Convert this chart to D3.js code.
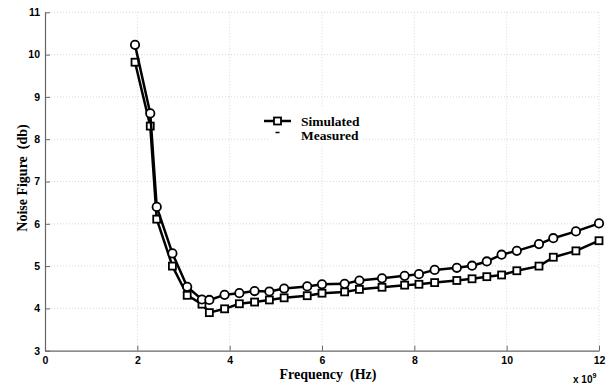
<!DOCTYPE html>
<html>
<head>
<meta charset="utf-8">
<script src="https://cdn.jsdelivr.net/npm/d3@7"></script>
<style>
  body { margin: 0; background: #fff; }
  .tick text { font-family: "Liberation Sans", Arial, sans-serif; font-weight: bold; font-size: 10.5px; fill: #000; }
  .axis-title { font-family: "Liberation Serif", "Times New Roman", serif; font-weight: bold; font-size: 14px; white-space: pre; }
  .legend-text { font-family: "Liberation Serif", "Times New Roman", serif; font-weight: bold; font-size: 13.5px; }
</style>
</head>
<body>
<div id="chart"></div>
<script>
// frequency in units of 1e9 Hz
var freq = [1.95, 2.28, 2.42, 2.76, 3.08, 3.40, 3.56, 3.89, 4.21, 4.54, 4.86, 5.18, 5.68, 6.0, 6.49,
  6.81, 7.30, 7.79, 8.10, 8.44, 8.92, 9.25, 9.57, 9.89, 10.22, 10.70, 11.01, 11.5, 12.0];
var measured = [10.23, 8.61, 6.40, 5.30, 4.51, 4.21, 4.20, 4.32, 4.36, 4.41, 4.40, 4.47, 4.52, 4.57, 4.58,
  4.66, 4.71, 4.77, 4.81, 4.91, 4.96, 5.01, 5.11, 5.27, 5.36, 5.52, 5.66, 5.82, 6.01];
var simulated = [9.82, 8.31, 6.11, 5.00, 4.31, 4.10, 3.90, 3.99, 4.11, 4.15, 4.20, 4.25, 4.30, 4.36, 4.39,
  4.45, 4.50, 4.55, 4.57, 4.61, 4.66, 4.70, 4.75, 4.79, 4.89, 5.00, 5.21, 5.36, 5.60];
var xTicks = [0, 2, 4, 6, 8, 10, 12];
var yTicks = [3, 4, 5, 6, 7, 8, 9, 10, 11];

var svgWidth = 612;
var svgHeight = 387;
var margin = { top: 12.3, right: 13, bottom: 36.3, left: 45 };
var width = svgWidth - margin.left - margin.right;
var height = svgHeight - margin.top - margin.bottom;

var svg = d3.select("#chart").append("svg")
  .attr("width", svgWidth)
  .attr("height", svgHeight);

var chartGroup = svg.append("g")
  .attr("transform", `translate(${margin.left}, ${margin.top})`);

var x = d3.scaleLinear().domain([0, 12]).range([0, width]);
var y = d3.scaleLinear().domain([3, 11]).range([height, 0]);

// grid
chartGroup.append("g").selectAll("line")
  .data(xTicks.slice(1))
  .enter().append("line")
  .attr("x1", d => x(d)).attr("x2", d => x(d))
  .attr("y1", 0).attr("y2", height)
  .attr("stroke", "#d8d8d8").attr("stroke-width", 1)
  .attr("stroke-dasharray", "1,2");
chartGroup.append("g").selectAll("line")
  .data(yTicks.slice(1))
  .enter().append("line")
  .attr("x1", 0).attr("x2", width)
  .attr("y1", d => y(d)).attr("y2", d => y(d))
  .attr("stroke", "#d8d8d8").attr("stroke-width", 1)
  .attr("stroke-dasharray", "1,2");

// axes with inward ticks
var bottomAxis = d3.axisBottom(x).tickValues(xTicks).tickSizeInner(-5).tickSizeOuter(0).tickPadding(6);
var leftAxis = d3.axisLeft(y).tickValues(yTicks).tickSizeInner(-5).tickSizeOuter(0).tickPadding(5);

var xAxis = chartGroup.append("g")
  .attr("transform", `translate(0, ${height})`)
  .call(bottomAxis);
var yAxis = chartGroup.append("g").call(leftAxis);
[xAxis, yAxis].forEach(function(a) {
  a.select(".domain").attr("stroke", "#666").attr("stroke-width", 1.2);
  a.selectAll(".tick line").attr("stroke", "#666");
});

// legend background hides the grid
chartGroup.append("rect")
  .attr("x", 270 - margin.left).attr("y", 108 - margin.top)
  .attr("width", 93).attr("height", 37)
  .attr("fill", "#fff");

var line = d3.line()
  .x((d, i) => x(freq[i]))
  .y(d => y(d));

function drawSeries(values, marker) {
  chartGroup.append("path")
    .datum(values)
    .attr("d", line)
    .attr("fill", "none")
    .attr("stroke", "#000")
    .attr("stroke-width", 2.5)
    .attr("stroke-linejoin", "round");
  if (marker === "circle") {
    chartGroup.selectAll(null)
      .data(values).enter().append("circle")
      .attr("cx", (d, i) => x(freq[i]))
      .attr("cy", d => y(d))
      .attr("r", 4.2)
      .attr("fill", "#fff").attr("stroke", "#000").attr("stroke-width", 1.8);
  } else {
    chartGroup.selectAll(null)
      .data(values).enter().append("rect")
      .attr("x", (d, i) => x(freq[i]) - 3.5)
      .attr("y", d => y(d) - 3.5)
      .attr("width", 7).attr("height", 7)
      .attr("fill", "#fff").attr("stroke", "#000").attr("stroke-width", 1.8);
  }
}

drawSeries(simulated, "square");
drawSeries(measured, "circle");

// legend
var legend = svg.append("g");
legend.append("line")
  .attr("x1", 264).attr("x2", 291).attr("y1", 121).attr("y2", 121)
  .attr("stroke", "#000").attr("stroke-width", 2.5);
legend.append("rect")
  .attr("x", 274).attr("y", 117.5).attr("width", 7).attr("height", 7)
  .attr("fill", "#fff").attr("stroke", "#000").attr("stroke-width", 1.8);
legend.append("line")
  .attr("x1", 275.5).attr("x2", 279.5).attr("y1", 132.5).attr("y2", 132.5)
  .attr("stroke", "#000").attr("stroke-width", 1.5);
legend.append("text")
  .attr("class", "legend-text")
  .attr("x", 301).attr("y", 125.5)
  .text("Simulated");
legend.append("text")
  .attr("class", "legend-text")
  .attr("x", 301).attr("y", 139.5)
  .text("Measured");

// axis titles
svg.append("text")
  .attr("class", "axis-title")
  .attr("x", 328).attr("y", 379)
  .attr("text-anchor", "middle")
  .text("Frequency  (Hz)");

svg.append("text")
  .attr("class", "axis-title")
  .attr("transform", "rotate(-90)")
  .attr("x", -178)
  .attr("y", 27)
  .attr("text-anchor", "middle")
  .text("Noise Figure  (db)");

var expo = svg.append("text")
  .attr("x", 573).attr("y", 383)
  .style("font-family", "Liberation Sans, Arial, sans-serif")
  .style("font-weight", "bold")
  .style("font-size", "10px");
expo.append("tspan").text("x 10");
expo.append("tspan").attr("dy", -5).style("font-size", "7px").text("9");
</script>
</body>
</html>
